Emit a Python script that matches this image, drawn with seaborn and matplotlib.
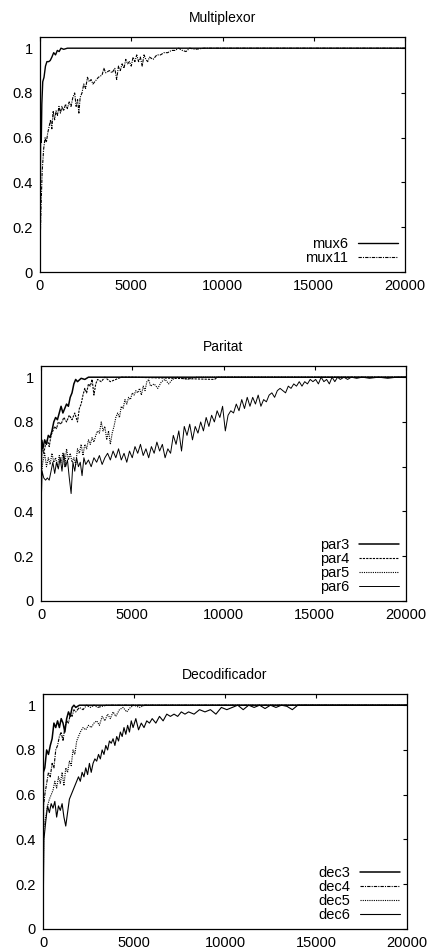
import numpy as np
import pandas as pd
import matplotlib
matplotlib.use("Agg")
import matplotlib.pyplot as plt
import seaborn as sns

# ---------------- data ----------------
titles = ["Multiplexor", "Paritat", "Decodificador"]
xticks = [0, 5000, 10000, 15000, 20000]
yticks = [0, 0.2, 0.4, 0.6, 0.8, 1]
ytick_labels = ["0", "0.2", "0.4", "0.6", "0.8", "1"]

mux6_x = [0, 30, 70, 100, 150, 220, 300, 380, 480, 560, 650, 750, 850, 950, 1050, 1150, 1300, 1500, 2000, 20000]
mux6_y = [0.12, 0.6, 0.58, 0.75, 0.85, 0.87, 0.92, 0.94, 0.94, 0.945, 0.96, 0.98, 0.97, 0.99, 0.985, 1.0, 0.995, 1.0, 1.0, 1.0]

mux11_x = [0, 60, 120, 200, 280, 350, 420, 500, 580, 650, 720, 800, 880, 960, 1040, 1120, 1200, 1300, 1400, 1500,
           1600, 1700, 1800, 1900, 1980, 2060, 2130, 2200, 2300, 2400, 2500, 2600, 2700, 2800, 2900, 3000, 3200, 3400,
           3500, 3600, 3800, 3950, 4100, 4200, 4300, 4400, 4500, 4600, 4700, 4800, 4900, 5000, 5100, 5200, 5300, 5400,
           5500, 5600, 5700, 5800, 5900, 6000, 6200, 6400, 6600, 6800, 7000, 7200, 7400, 7600, 7800, 8000, 8200, 8500,
           9000, 9500, 10000, 20000]
mux11_y = [0.1, 0.3, 0.45, 0.55, 0.6, 0.58, 0.62, 0.65, 0.68, 0.64, 0.72, 0.68, 0.72, 0.70, 0.74, 0.71, 0.74, 0.72, 0.75, 0.73,
           0.76, 0.74, 0.78, 0.80, 0.74, 0.77, 0.71, 0.78, 0.80, 0.84, 0.82, 0.87, 0.85, 0.86, 0.84, 0.85, 0.87, 0.88,
           0.91, 0.89, 0.90, 0.89, 0.91, 0.86, 0.92, 0.90, 0.93, 0.91, 0.95, 0.93, 0.94, 0.92, 0.96, 0.94, 0.97, 0.94,
           0.96, 0.92, 0.97, 0.95, 0.94, 0.96, 0.95, 0.97, 0.97, 0.98, 0.98, 0.99, 0.99, 1.0, 0.99, 0.985, 1.0, 0.995,
           1.0, 1.0, 1.0, 1.0]

par3_x = [0, 30, 100, 200, 300, 400, 500, 600, 700, 800, 900, 1000, 1100, 1200, 1300, 1400, 1500, 1600, 1700, 1800,
          1900, 2000, 2200, 2400, 2600, 3000, 20000]
par3_y = [0.4, 0.72, 0.68, 0.72, 0.70, 0.74, 0.73, 0.76, 0.80, 0.82, 0.81, 0.84, 0.87, 0.84, 0.86, 0.88, 0.87, 0.91, 0.93, 0.97,
          0.99, 0.98, 0.995, 0.99, 1.0, 1.0, 1.0]

par4_x = [0, 50, 150, 250, 350, 450, 550, 650, 750, 850, 950, 1100, 1250, 1400, 1550, 1700, 1850, 2000, 2100, 2200,
          2300, 2400, 2500, 2600, 2700, 2800, 2900, 3000, 3100, 3300, 3500, 3800, 4100, 4400, 5000, 9500, 9700, 20000]
par4_y = [0.5, 0.7, 0.66, 0.7, 0.72, 0.69, 0.74, 0.76, 0.78, 0.77, 0.80, 0.79, 0.82, 0.80, 0.83, 0.81, 0.84, 0.80, 0.86, 0.88,
          0.92, 0.95, 0.93, 0.97, 0.96, 0.99, 0.92, 0.97, 0.99, 0.98, 1.0, 0.98, 0.99, 1.0, 1.0, 0.99, 1.0, 1.0]

par5_x = [0, 100, 200, 300, 400, 500, 600, 700, 800, 900, 1000, 1100, 1200, 1300, 1400, 1500, 1600, 1700, 1800, 1900,
          2000, 2100, 2200, 2300, 2400, 2500, 2600, 2700, 2800, 2900, 3000, 3100, 3200, 3300, 3400, 3500, 3600, 3700,
          3800, 3900, 4000, 4100, 4200, 4300, 4400, 4500, 4600, 4700, 4800, 4900, 5000, 5100, 5200, 5300, 5400, 5500,
          5600, 5700, 5800, 5900, 6000, 6200, 6400, 6600, 6800, 7000, 7200, 7500, 8000, 8500, 9000, 20000]
par5_y = [0.55, 0.62, 0.66, 0.60, 0.64, 0.61, 0.66, 0.62, 0.64, 0.60, 0.65, 0.62, 0.66, 0.60, 0.68, 0.63, 0.66, 0.62, 0.64, 0.61,
          0.68, 0.66, 0.70, 0.65, 0.70, 0.68, 0.72, 0.70, 0.73, 0.71, 0.74, 0.76, 0.75, 0.80, 0.76, 0.78, 0.72, 0.76,
          0.70, 0.75, 0.78, 0.82, 0.84, 0.82, 0.87, 0.86, 0.90, 0.88, 0.91, 0.90, 0.93, 0.92, 0.94, 0.93, 0.95, 0.92,
          0.96, 0.94, 0.98, 0.99, 0.96, 0.97, 0.95, 0.98, 0.99, 0.97, 0.99, 1.0, 0.99, 1.0, 1.0, 1.0]

par6_x = [0, 60, 150, 250, 350, 450, 550, 650, 750, 850, 950, 1050, 1150, 1250, 1350, 1450, 1550, 1650, 1750, 1850,
          1950, 2050, 2150, 2250, 2350, 2450, 2600, 2750, 2900, 3050, 3200, 3350, 3500, 3650, 3800, 3950, 4100, 4250,
          4400, 4550, 4700, 4850, 5000, 5150, 5300, 5450, 5600, 5750, 5900, 6050, 6200, 6350, 6500, 6650, 6800, 6950,
          7100, 7250, 7400, 7550, 7700, 7850, 8000, 8150, 8300, 8450, 8600, 8750, 8900, 9050, 9200, 9350, 9500, 9650,
          9800, 9950, 10100, 10250, 10400, 10550, 10700, 10850, 11000, 11150, 11300, 11450, 11600, 11750, 11900, 12050,
          12200, 12350, 12500, 12650, 12800, 12950, 13100, 13250, 13400, 13550, 13700, 13850, 14000, 14150, 14300, 14450,
          14600, 14750, 14900, 15050, 15200, 15350, 15500, 15650, 15800, 15950, 16100, 16250, 16400, 16600, 16800, 17000,
          17300, 17600, 18000, 18500, 19000, 19500, 20000]
par6_y = [0.4, 0.58, 0.55, 0.54, 0.55, 0.54, 0.58, 0.62, 0.57, 0.62, 0.59, 0.64, 0.58, 0.66, 0.60, 0.63, 0.55, 0.48, 0.62, 0.58,
          0.64, 0.60, 0.62, 0.56, 0.64, 0.61, 0.63, 0.60, 0.64, 0.62, 0.65, 0.61, 0.64, 0.66, 0.63, 0.67, 0.64, 0.68,
          0.63, 0.66, 0.62, 0.67, 0.64, 0.69, 0.66, 0.70, 0.65, 0.68, 0.64, 0.69, 0.66, 0.71, 0.67, 0.70, 0.64, 0.68,
          0.66, 0.74, 0.70, 0.76, 0.67, 0.78, 0.74, 0.79, 0.72, 0.78, 0.75, 0.80, 0.76, 0.82, 0.78, 0.83, 0.80, 0.85,
          0.82, 0.87, 0.76, 0.83, 0.85, 0.84, 0.88, 0.85, 0.90, 0.86, 0.91, 0.87, 0.91, 0.88, 0.92, 0.87,
          0.90, 0.89, 0.92, 0.93, 0.91, 0.94, 0.95, 0.94, 0.93, 0.96, 0.95, 0.97, 0.96, 0.98, 0.96, 0.98,
          0.97, 0.99, 0.98, 0.99, 0.97, 1.0, 0.98, 0.99, 0.97, 1.0, 0.98, 1.0, 0.99, 1.0, 0.99, 1.0,
          0.995, 1.0, 0.995, 1.0, 0.995, 1.0, 1.0]

dec3_x = [0, 20, 100, 200, 300, 400, 500, 600, 700, 800, 900, 1000, 1100, 1200, 1300, 1400, 1500, 1600, 1700, 1800,
          2000, 20000]
dec3_y = [0.0, 0.7, 0.72, 0.80, 0.78, 0.82, 0.85, 0.92, 0.90, 0.93, 0.90, 0.94, 0.92, 0.88, 0.94, 0.97, 0.95, 0.99, 1.0, 0.99,
          1.0, 1.0]

dec4_x = [0, 30, 100, 200, 300, 400, 500, 600, 700, 800, 900, 1000, 1100, 1200, 1300, 1400, 1500, 1600, 1700, 1800,
          2000, 2200, 2400, 2600, 2800, 3000, 3500, 20000]
dec4_y = [0.0, 0.55, 0.60, 0.65, 0.70, 0.68, 0.74, 0.72, 0.80, 0.82, 0.86, 0.88, 0.84, 0.90, 0.93, 0.92, 0.96, 0.95, 0.98, 0.97,
          0.99, 0.98, 1.0, 0.99, 1.0, 0.99, 1.0, 1.0]

dec5_x = [0, 40, 150, 250, 350, 450, 550, 650, 750, 850, 950, 1050, 1150, 1250, 1350, 1450, 1550, 1650, 1750, 1850,
          1950, 2050, 2200, 2350, 2500, 2650, 2800, 2950, 3100, 3250, 3400, 3550, 3700, 3850, 4000, 4200, 4400, 4600,
          4800, 5000, 5300, 5600, 6000, 20000]
dec5_y = [0.0, 0.45, 0.50, 0.55, 0.58, 0.60, 0.62, 0.66, 0.63, 0.68, 0.65, 0.70, 0.64, 0.72, 0.70, 0.75, 0.73, 0.80, 0.78, 0.84,
          0.86, 0.88, 0.90, 0.89, 0.91, 0.90, 0.92, 0.93, 0.91, 0.95, 0.93, 0.96, 0.94, 0.97, 0.95, 0.98, 0.99, 0.97,
          0.99, 1.0, 0.99, 1.0, 1.0, 1.0]

dec6_x = [0, 50, 150, 250, 350, 450, 550, 650, 750, 850, 950, 1050, 1150, 1250, 1350, 1450, 1550, 1650, 1750, 1850,
          1950, 2050, 2150, 2250, 2350, 2450, 2550, 2650, 2750, 2850, 2950, 3050, 3150, 3250, 3350, 3450, 3550, 3650,
          3750, 3850, 3950, 4050, 4150, 4250, 4350, 4450, 4550, 4650, 4750, 4850, 4950, 5100, 5250, 5400, 5550, 5700,
          5850, 6000, 6200, 6400, 6600, 6800, 7000, 7200, 7400, 7600, 7800, 8000, 8300, 8600, 8900, 9200, 9500, 9800,
          10100, 10400, 10700, 11000, 11300, 11600, 11900, 12200, 12500, 12800, 13100, 13400, 13700, 14000, 20000]
dec6_y = [0.0, 0.40, 0.48, 0.55, 0.52, 0.56, 0.54, 0.57, 0.50, 0.55, 0.53, 0.56, 0.50, 0.46, 0.52, 0.58, 0.60, 0.62, 0.64, 0.66,
          0.68, 0.66, 0.70, 0.68, 0.72, 0.69, 0.74, 0.70, 0.74, 0.76, 0.75, 0.78, 0.76, 0.80, 0.78, 0.82, 0.80, 0.84,
          0.83, 0.85, 0.82, 0.86, 0.84, 0.88, 0.86, 0.90, 0.87, 0.91, 0.88, 0.93, 0.90, 0.94, 0.89, 0.92, 0.90, 0.93,
          0.92, 0.94, 0.92, 0.95, 0.93, 0.96, 0.95, 0.96, 0.95, 0.97, 0.96, 0.97, 0.96, 0.98, 0.97, 0.98, 0.96, 0.99,
          0.98, 0.99, 1.0, 0.98, 1.0, 0.99, 1.0, 0.985, 1.0, 0.99, 1.0, 0.995, 0.98, 1.0, 1.0]

panels = [
    [("mux6", mux6_x, mux6_y), ("mux11", mux11_x, mux11_y)],
    [("par3", par3_x, par3_y), ("par4", par4_x, par4_y), ("par5", par5_x, par5_y), ("par6", par6_x, par6_y)],
    [("dec3", dec3_x, dec3_y), ("dec4", dec4_x, dec4_y), ("dec5", dec5_x, dec5_y), ("dec6", dec6_x, dec6_y)],
]

# ---------------- style ----------------
sns.set_theme(style="white")
plt.rcParams["font.family"] = ["Liberation Sans", "DejaVu Sans"]

styles = {
    "mux6": dict(ls="-", lw=1.0),
    "mux11": dict(ls=(0, (3, 1, 1, 1)), lw=0.8),
    "par3": dict(ls="-", lw=1.1),
    "par4": dict(ls=(0, (2, 1)), lw=0.8),
    "par5": dict(ls=(0, (1, 1)), lw=0.8),
    "par6": dict(ls="-", lw=0.7),
    "dec3": dict(ls="-", lw=1.1),
    "dec4": dict(ls=(0, (3, 1, 1, 1)), lw=0.8),
    "dec5": dict(ls=(0, (1, 1)), lw=0.8),
    "dec6": dict(ls="-", lw=0.8),
}

FS = 10.5
fig = plt.figure(figsize=(4.28, 9.51), dpi=100)
W, H = 428, 951
boxes = [(40, 37, 405, 272), (41, 366, 406, 601), (43, 694, 407, 929)]

for i, (box, series) in enumerate(zip(boxes, panels)):
    l, t, r, b = box
    ax = fig.add_axes([l / W, 1 - b / H, (r - l) / W, (b - t) / H])
    for name, xs, ys in series:
        df = pd.DataFrame({"x": xs, "y": ys})
        st = styles[name]
        sns.lineplot(data=df, x="x", y="y", ax=ax, color="black", linestyle=st["ls"],
                     linewidth=st["lw"], label=name, sort=False, estimator=None)
    ax.set_xlim(0, 20000)
    ax.set_ylim(0, 1.05)
    ax.set_xticks(xticks)
    ax.set_xticklabels([str(v) for v in xticks])
    ax.set_yticks(yticks)
    ax.set_yticklabels(ytick_labels)
    ax.set_xlabel("")
    ax.set_ylabel("")
    ax.tick_params(direction="in", top=True, right=True, length=3, width=0.8,
                   labelsize=FS, colors="black", pad=5)
    for sp in ax.spines.values():
        sp.set_color("black")
        sp.set_linewidth(0.9)
    ax.set_title(titles[i], fontsize=FS - 0.5, pad=11, color="black")
    ax.legend(loc="lower right", frameon=False, markerfirst=False, fontsize=FS,
              handlelength=2.7, labelspacing=0.0, borderaxespad=0.3, borderpad=0.2,
              handletextpad=0.7, labelcolor="black")
    ax.grid(False)

fig.savefig("out.png", dpi=100)
